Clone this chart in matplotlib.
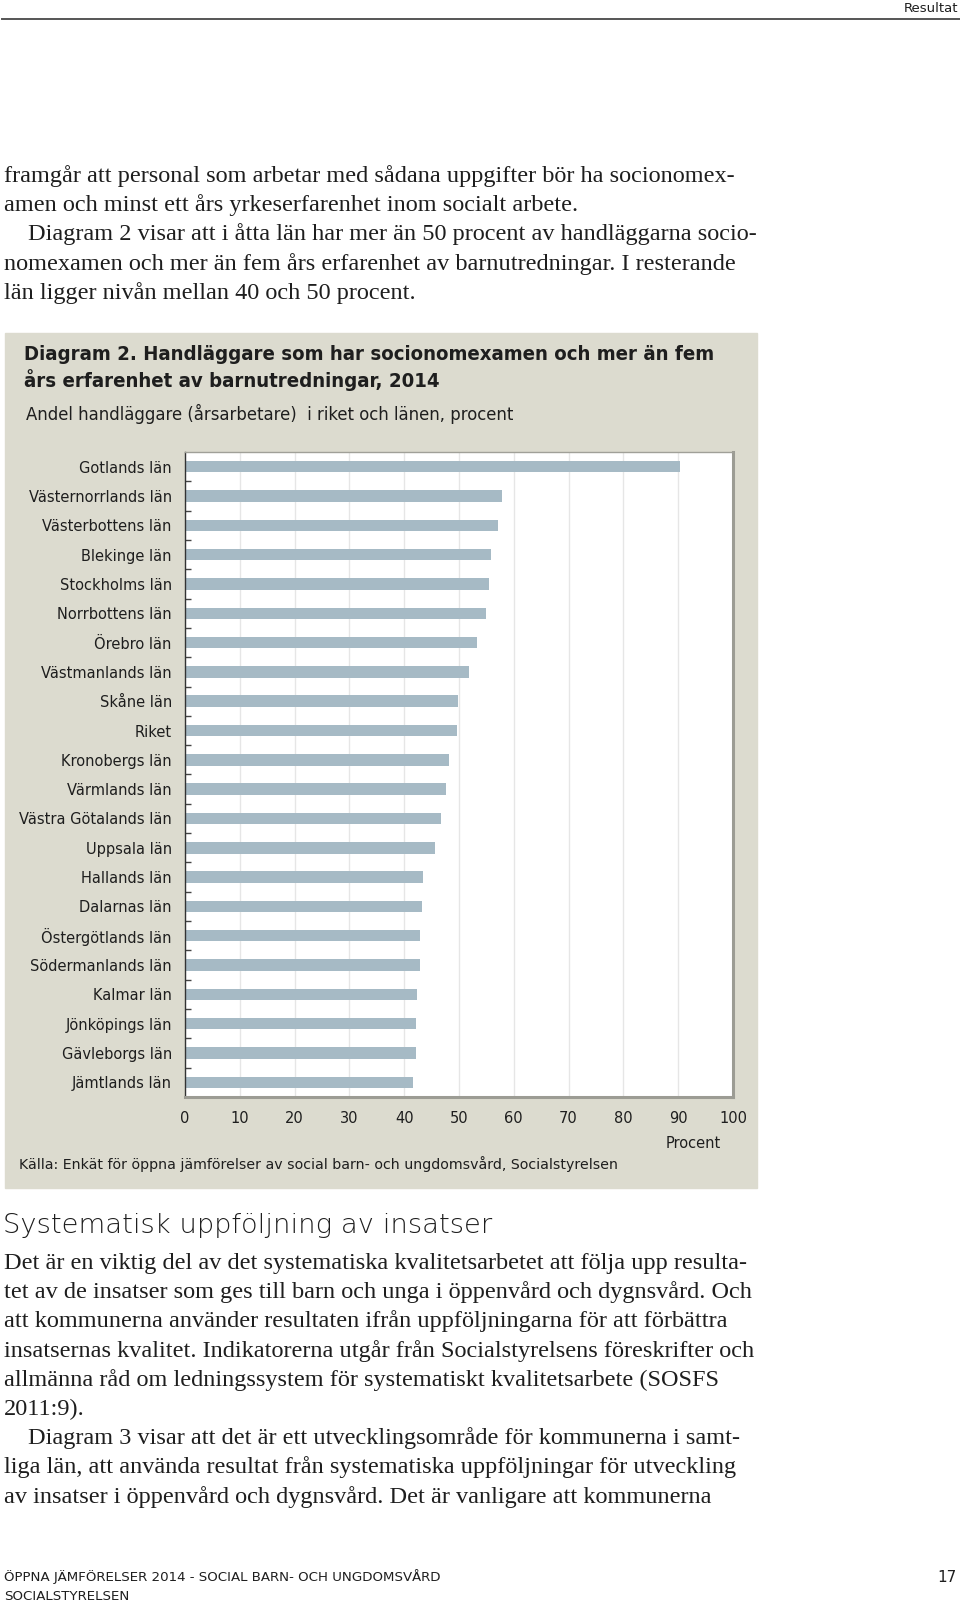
import matplotlib
matplotlib.use("Agg")
import matplotlib.pyplot as plt
from matplotlib.patches import Rectangle
import numpy as np

# data
lan = ['Gotlands län', 'Västernorrlands län', 'Västerbottens län', 'Blekinge län',
       'Stockholms län', 'Norrbottens län', 'Örebro län', 'Västmanlands län',
       'Skåne län', 'Riket', 'Kronobergs län', 'Värmlands län',
       'Västra Götalands län', 'Uppsala län', 'Hallands län', 'Dalarnas län',
       'Östergötlands län', 'Södermanlands län', 'Kalmar län', 'Jönköpings län',
       'Gävleborgs län', 'Jämtlands län']
andel = [90.3, 57.8, 57.2, 55.9, 55.4, 55.0, 53.3, 51.9, 49.9, 49.7, 48.2,
         47.6, 46.8, 45.7, 43.5, 43.2, 42.9, 42.8, 42.4, 42.2, 42.1, 41.6]
xticks = [0, 10, 20, 30, 40, 50, 60, 70, 80, 90, 100]

text_top = [
    "framgår att personal som arbetar med sådana uppgifter bör ha socionomex-",
    "amen och minst ett års yrkeserfarenhet inom socialt arbete.",
    "Diagram 2 visar att i åtta län har mer än 50 procent av handläggarna socio-",
    "nomexamen och mer än fem års erfarenhet av barnutredningar. I resterande",
    "län ligger nivån mellan 40 och 50 procent.",
]
indent_top = [0, 0, 1, 0, 0]
text_bottom = [
    "Det är en viktig del av det systematiska kvalitetsarbetet att följa upp resulta-",
    "tet av de insatser som ges till barn och unga i öppenvård och dygnsvård. Och",
    "att kommunerna använder resultaten ifrån uppföljningarna för att förbättra",
    "insatsernas kvalitet. Indikatorerna utgår från Socialstyrelsens föreskrifter och",
    "allmänna råd om ledningssystem för systematiskt kvalitetsarbete (SOSFS",
    "2011:9).",
    "Diagram 3 visar att det är ett utvecklingsområde för kommunerna i samt-",
    "liga län, att använda resultat från systematiska uppföljningar för utveckling",
    "av insatser i öppenvård och dygnsvård. Det är vanligare att kommunerna",
]
indent_bottom = [0, 0, 0, 0, 0, 0, 1, 0, 0]

W, H = 960, 1604
fig = plt.figure(figsize=(W / 100, H / 100), dpi=100)
fig.patch.set_facecolor('white')

SANS = 'DejaVu Sans'
SERIF = 'Liberation Serif'
DARK = '#1e1e1e'
BODY = 17.45


def px(x, y):
    return x / W, 1 - y / H


def put(x, y, s, **kw):
    kw.setdefault('va', 'center')
    kw.setdefault('color', DARK)
    fig.text(*px(x, y), s, **kw)


# page header
put(958, 9, 'Resultat', ha='right', family=SANS, fontsize=9.5)
fig.add_artist(plt.Line2D([2 / W, 1], [1 - 18.5 / H] * 2, color='#555555', lw=1.4))

# body text above chart
for i, line in enumerate(text_top):
    put(4 + 24 * indent_top[i], 176 + i * 29.2, line, family=SERIF, fontsize=BODY)

# chart panel
x0, y0, x1, y1 = 5, 333, 757, 1188
fig.add_artist(Rectangle(px(x0, y1), (x1 - x0) / W, (y1 - y0) / H,
                         transform=fig.transFigure, color='#dcdbcf', zorder=0))
put(24, 355, 'Diagram 2. Handläggare som har socionomexamen och mer än fem',
    family=SANS, fontsize=14.6, weight='bold', stretch='condensed')
put(24, 380, 'års erfarenhet av barnutredningar, 2014',
    family=SANS, fontsize=14.6, weight='bold', stretch='condensed')
put(26, 414, 'Andel handläggare (årsarbetare)  i riket och länen, procent',
    family=SANS, fontsize=11.9)

pl, pr, pt, pb = 185, 733, 452, 1097
ax = fig.add_axes([pl / W, 1 - pb / H, (pr - pl) / W, (pb - pt) / H])
ax.set_facecolor('white')
y = np.arange(len(lan))
ax.barh(y, andel, height=0.39, color='#a6bac5', zorder=2)
ax.set_xlim(0, 100)
ax.set_ylim(len(lan) - 0.5, -0.5)
ax.set_xticks(xticks)
ax.set_xticklabels([str(t) for t in xticks], family=SANS, fontsize=10.5, color=DARK)
ax.set_yticks(y)
ax.set_yticklabels(lan, family=SANS, fontsize=10.5, color=DARK)
ax.set_yticks(np.arange(len(lan) - 1) + 0.5, minor=True)
ax.tick_params(axis='y', which='major', length=0, pad=9.5)
ax.tick_params(axis='y', which='minor', direction='in', length=4, width=1, color='#444444')
ax.tick_params(axis='x', length=0, pad=10)
ax.grid(axis='x', color='#e6e6e6', lw=1, zorder=1)
ax.spines['top'].set_color('#a0a098')
ax.spines['top'].set_linewidth(1)
for side in ['right', 'bottom']:
    ax.spines[side].set_color('#9c9c94')
    ax.spines[side].set_linewidth(2.2)
ax.spines['left'].set_color('#333333')
ax.spines['left'].set_linewidth(1)

put(693, 1144, 'Procent', ha='center', family=SANS, fontsize=10.5)
put(19, 1164, 'Källa: Enkät för öppna jämförelser av social barn- och ungdomsvård, Socialstyrelsen',
    family=SANS, fontsize=10.15)

# section heading and text below chart
put(3, 1226, 'Systematisk uppföljning av insatser', family=SANS, fontsize=19.7,
    weight='light')
for i, line in enumerate(text_bottom):
    put(4 + 24 * indent_bottom[i], 1263 + i * 29.2, line, family=SERIF, fontsize=BODY)

# footer
put(4, 1577, 'ÖPPNA JÄMFÖRELSER 2014 - SOCIAL BARN- OCH UNGDOMSVÅRD', family=SANS, fontsize=9.6)
put(4, 1596, 'SOCIALSTYRELSEN', family=SANS, fontsize=9.6)
put(957, 1577, '17', ha='right', family=SANS, fontsize=11)

fig.savefig('out.png', dpi=100)
